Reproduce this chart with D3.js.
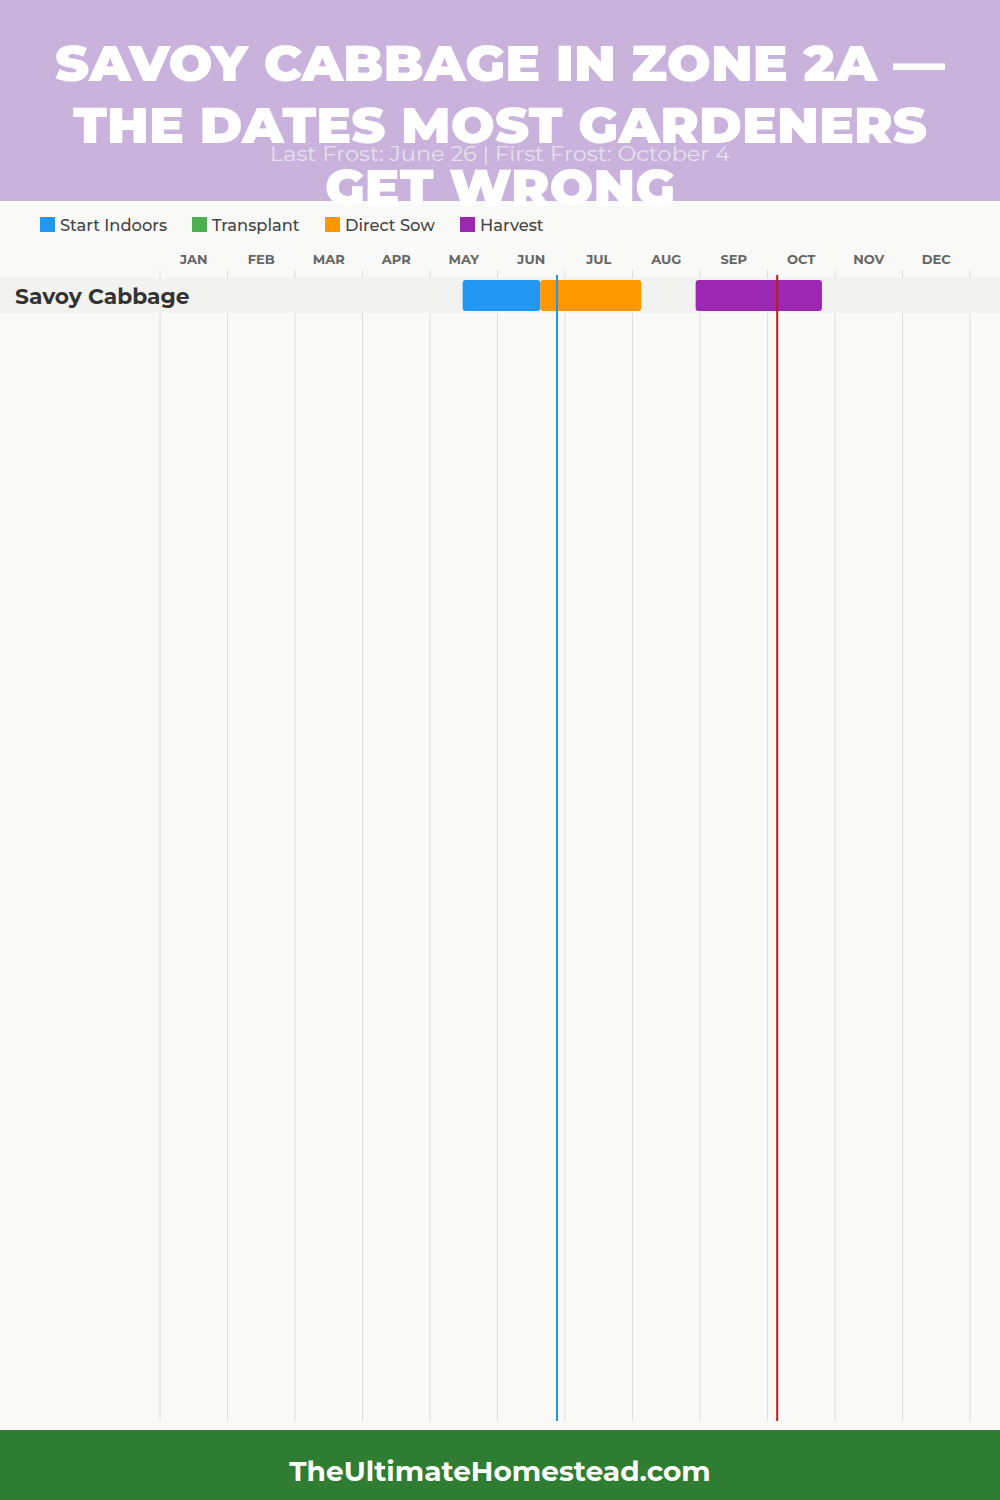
<!DOCTYPE html>
<html><head><meta charset="utf-8">
<script src="https://cdn.jsdelivr.net/npm/d3@7"></script>
<style>
html,body{margin:0;padding:0;background:#f9f9f7;}
svg{display:block;}
</style></head>
<body>
<script>
// ---- data ----
const titleLines = ["SAVOY CABBAGE IN ZONE 2A —", "THE DATES MOST GARDENERS", "GET WRONG"];
const subtitle = "Last Frost: June 26 | First Frost: October 4";
const months = ["JAN","FEB","MAR","APR","MAY","JUN","JUL","AUG","SEP","OCT","NOV","DEC"];
const daysInMonth = [31,28,31,30,31,30,31,31,30,31,30,31];
const crops = ["Savoy Cabbage"];
const legendNames = ["Start Indoors","Transplant","Direct Sow","Harvest"];
const legendColors = ["#2196f3","#4caf50","#ff9800","#9c27b0"];
// periods: [crop, type, startMonth(0-based), startDay, endMonth, endDay]
const periodCrop = ["Savoy Cabbage","Savoy Cabbage","Savoy Cabbage"];
const periodType = ["Start Indoors","Direct Sow","Harvest"];
const periodStart = [[4,15],[5,19],[7,29]];
const periodEnd = [[5,19],[7,4],[9,25]];
const lastFrost = [5,26];
const firstFrost = [9,4];
const footerText = "TheUltimateHomestead.com";

const W = 1000, H = 1500;
const svg = d3.select("body").append("svg").attr("width",W).attr("height",H);
const font = "Montserrat, Inter, 'Open Sans', sans-serif";

svg.append("rect").attr("width",W).attr("height",H).attr("fill","#f9f9f7");

const x = d3.scaleLinear().domain([0,12]).range([160,970]);
const pos = d => x(d[0] + d[1]/daysInMonth[d[0]]);
const color = d3.scaleOrdinal().domain(legendNames).range(legendColors);
const y = d3.scaleBand().domain(crops).range([278,313]).padding(0);

// grid
const gridTop = 270, gridBottom = 1421;
svg.append("g").selectAll("line").data(d3.range(0,13)).join("line")
  .attr("x1",d=>x(d)).attr("x2",d=>x(d)).attr("y1",gridTop).attr("y2",gridBottom)
  .attr("stroke","#dcdcdc").attr("stroke-width",1);

// month labels
svg.append("g").selectAll("text").data(months).join("text")
  .attr("x",(d,i)=>x(i+0.5)).attr("y",264).attr("text-anchor","middle")
  .attr("font-family",font).attr("font-weight",700).attr("font-size",13)
  .attr("fill","#666").text(d=>d);

// row background
svg.append("g").selectAll("rect").data(crops).join("rect")
  .attr("x",0).attr("width",W).attr("y",d=>y(d)).attr("height",y.bandwidth())
  .attr("fill","#f2f2f0");

// row label
svg.append("g").selectAll("text").data(crops).join("text")
  .attr("x",15).attr("y",d=>y(d)+y.bandwidth()/2+8)
  .attr("font-family",font).attr("font-weight",700).attr("font-size",21.8)
  .attr("fill","#333").text(d=>d);

// bars
svg.append("g").selectAll("rect").data(periodType.map((t,i)=>({t,i}))).join("rect")
  .attr("x",d=>pos(periodStart[d.i]))
  .attr("width",d=>pos(periodEnd[d.i])-pos(periodStart[d.i]))
  .attr("y",d=>y(periodCrop[d.i])+2).attr("height",y.bandwidth()-4)
  .attr("rx",3).attr("fill",d=>color(d.t));

// frost lines
svg.append("line").attr("x1",pos(lastFrost)+1).attr("x2",pos(lastFrost)+1)
  .attr("y1",275).attr("y2",gridBottom).attr("stroke","#2196f3").attr("stroke-width",2);
svg.append("line").attr("x1",pos(firstFrost)+1).attr("x2",pos(firstFrost)+1)
  .attr("y1",275).attr("y2",gridBottom).attr("stroke","#b71c1c").attr("stroke-width",2);

// legend
const legX = [40,192,325,460];
const lg = svg.append("g").selectAll("g").data(legendNames).join("g")
  .attr("transform",(d,i)=>`translate(${legX[i]},217)`);
lg.append("rect").attr("width",15).attr("height",15).attr("fill",d=>color(d));
lg.append("text").attr("x",20).attr("y",13.5).attr("font-family",font)
  .attr("font-weight",500).attr("font-size",16.3).attr("fill","#444").text(d=>d);

// header
svg.append("rect").attr("x",0).attr("y",0).attr("width",W).attr("height",201).attr("fill","#c9b3dd");
const titleW = [890,854,350];
const titleY = [81,143,205];
svg.append("g").selectAll("text").data(titleLines).join("text")
  .attr("x",W/2).attr("y",(d,i)=>titleY[i]).attr("text-anchor","middle")
  .attr("font-family",font).attr("font-weight",900).attr("font-size",50)
  .attr("fill","#ffffff")
  .attr("textLength",(d,i)=>titleW[i]).attr("lengthAdjust","spacingAndGlyphs")
  .text(d=>d);
svg.append("text").attr("x",W/2).attr("y",161).attr("text-anchor","middle")
  .attr("font-family",font).attr("font-size",20).attr("fill","#e6e1ea")
  .attr("textLength",460).attr("lengthAdjust","spacingAndGlyphs")
  .text(subtitle);

// footer
svg.append("rect").attr("x",0).attr("y",1430).attr("width",W).attr("height",70).attr("fill","#2e7d32");
svg.append("text").attr("x",W/2).attr("y",1481).attr("text-anchor","middle")
  .attr("font-family",font).attr("font-weight",700).attr("font-size",28)
  .attr("fill","#fff").text(footerText);
</script>
</body></html>
